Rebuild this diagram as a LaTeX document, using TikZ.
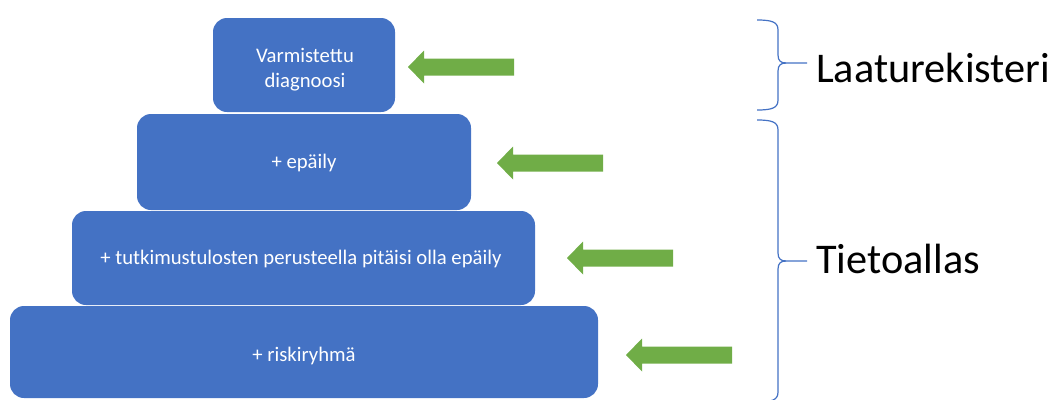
\documentclass[tikz,border=0pt]{standalone}
\usepackage{fontspec}
\setmainfont{Carlito}
\definecolor{boxblue}{HTML}{4472C4}
\definecolor{arrgreen}{HTML}{70AD47}
\begin{document}
\begin{tikzpicture}[x=1pt,y=-1pt,
  tier/.style={fill=boxblue, rounded corners=14pt, inner sep=0pt, outer sep=0pt},
  tiertext/.style={text=white, font=\fontsize{20.7}{25}\selectfont, inner sep=0pt, anchor=base},
  leftarrow/.style={fill=arrgreen, draw=none},
  bracket/.style={draw=boxblue, line width=1.2pt},
  bigtext/.style={font=\fontsize{42.3}{50}\selectfont, text=black, inner sep=0pt, anchor=base west}]
\useasboundingbox (0,0) rectangle (1052,399);
% tiers
\node[tier, minimum width=588, minimum height=92] (t4) at (304,352) {};
\node[tier, minimum width=463, minimum height=94] (t3) at (303.5,258) {};
\node[tier, minimum width=334, minimum height=96] (t2) at (304,162) {};
\node[tier, minimum width=182, minimum height=94] (t1) at (304,65) {};
\node[tiertext] (t1a) at (305,62) {Varmistettu};
\node[tiertext] (t1b) at (305,87) {diagnoosi};
\node[tiertext] (t2a) at (304,168) {+ epäily};
\node[tiertext] (t3a) at (301,264) {+ tutkimustulosten perusteella pitäisi olla epäily};
\node[tiertext] (t4a) at (304,361) {+ riskiryhmä};
% arrows
\fill[leftarrow] (514,58.5) -- (424,58.5) -- (424,50.5) -- (408,67) -- (424,83.5) -- (424,75.5) -- (514,75.5) -- cycle;
\fill[leftarrow] (603,154.5) -- (513,154.5) -- (513,146.5) -- (497,163) -- (513,179.5) -- (513,171.5) -- (603,171.5) -- cycle;
\fill[leftarrow] (673,249.5) -- (583,249.5) -- (583,241.5) -- (567,258) -- (583,274.5) -- (583,266.5) -- (673,266.5) -- cycle;
\fill[leftarrow] (732,346.5) -- (642,346.5) -- (642,338.5) -- (626,355) -- (642,371.5) -- (642,363.5) -- (732,363.5) -- cycle;
% braces
\coordinate (b1tip) at (807,63);
\coordinate (b2tip) at (807,261);
\draw[bracket] (757,20) .. controls (772,20) and (778,22) .. (778,30) -- (778,55)
  .. controls (778,61) and (781,63) .. (786,63) -- (b1tip);
\draw[bracket] (786,63) .. controls (781,63) and (778,65) .. (778,71) -- (778,100)
  .. controls (778,108) and (772,110) .. (757,110);
\draw[bracket] (757,120) .. controls (772,120) and (778,122) .. (778,130) -- (778,253)
  .. controls (778,259) and (781,261) .. (786,261) -- (b2tip);
\draw[bracket] (786,261) .. controls (781,261) and (778,263) .. (778,269) -- (778,392)
  .. controls (778,400) and (772,402) .. (757,402);
% labels
\node[bigtext] (lab1) at (816,82) {Laaturekisteri};
\node[bigtext] (lab2) at (816,273) {Tietoallas};
\end{tikzpicture}
\end{document}
